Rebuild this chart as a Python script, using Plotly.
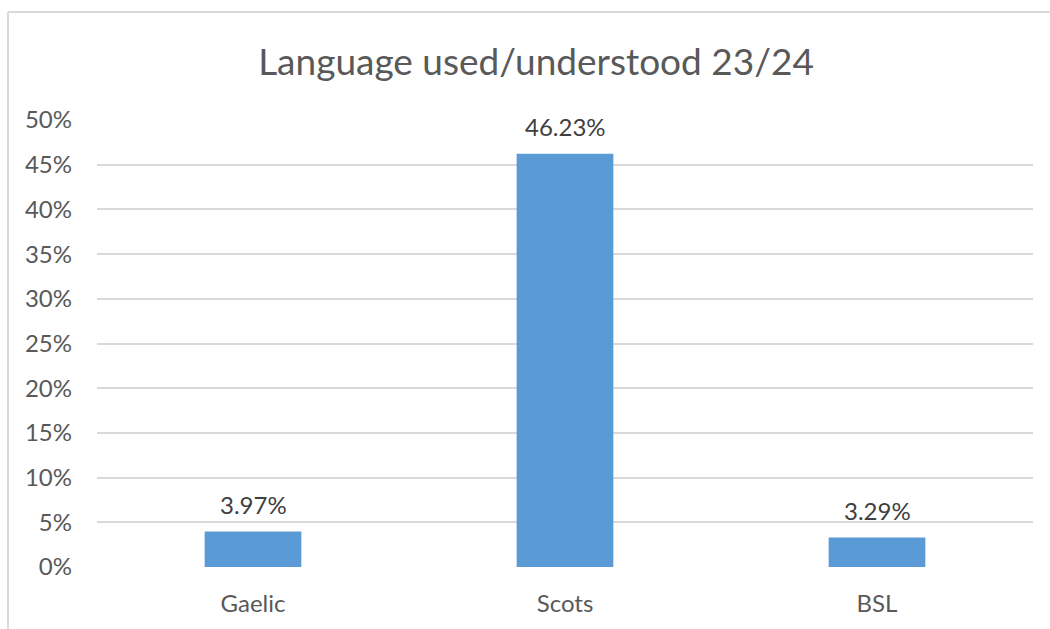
import plotly.graph_objects as go

categories = ["Gaelic", "Scots", "BSL"]
values = [3.97, 46.23, 3.29]
title_text = "Language used/understood 23/24"
y_ticks = [0, 5, 10, 15, 20, 25, 30, 35, 40, 45, 50]
y_tick_labels = [f"{v}%" for v in y_ticks]

FONT = "Lato, Open Sans, sans-serif"
BAR_COLOR = "#5B9BD5"
TEXT_COLOR = "#595959"

W, H = 1050, 629
ML, MR, MT, MB = 97, 17, 120, 62
pw, ph = W - ML - MR, H - MT - MB

def px_x(p):
    return (p - ML) / pw

def px_y(p):
    return (H - MB - p) / ph

fig = go.Figure(
    go.Bar(
        x=categories,
        y=values,
        marker=dict(color=BAR_COLOR, line=dict(width=0)),
        width=0.31,
        hoverinfo="skip",
    )
)

for c, v in zip(categories, values):
    fig.add_annotation(
        x=c, y=v, text=f"{v:.2f}%", showarrow=False,
        yanchor="middle", yshift=27,
        font=dict(family=FONT, size=24, color="#404040"),
    )

# chart border (cropped: only left and top edges visible)
fig.add_shape(type="line", xref="paper", yref="paper",
              x0=px_x(8), x1=px_x(8), y0=px_y(12), y1=px_y(640),
              line=dict(color="#d9d9d9", width=2))
fig.add_shape(type="line", xref="paper", yref="paper",
              x0=px_x(8), x1=px_x(1060), y0=px_y(12), y1=px_y(12),
              line=dict(color="#d9d9d9", width=2))

fig.update_layout(
    width=W, height=H,
    margin=dict(l=ML, r=MR, t=MT, b=MB, pad=0),
    paper_bgcolor="white", plot_bgcolor="white",
    title=dict(text=title_text, x=(536) / W, xanchor="center",
               y=1 - 62 / H, yanchor="middle",
               font=dict(family=FONT, size=37, color=TEXT_COLOR)),
    showlegend=False,
    xaxis=dict(range=[-0.5, 2.5], showgrid=False, zeroline=False,
               showline=False, ticks="", ticklabelstandoff=20,
               tickfont=dict(family=FONT, size=24, color=TEXT_COLOR)),
    yaxis=dict(range=[0, 50], tickvals=y_ticks, ticktext=y_tick_labels,
               showgrid=True, gridcolor="#d9d9d9", gridwidth=1.5,
               zeroline=False, showline=False, ticks="",
               ticklabelstandoff=24,
               tickfont=dict(family=FONT, size=24, color=TEXT_COLOR)),
)

fig.write_html("out.html")
